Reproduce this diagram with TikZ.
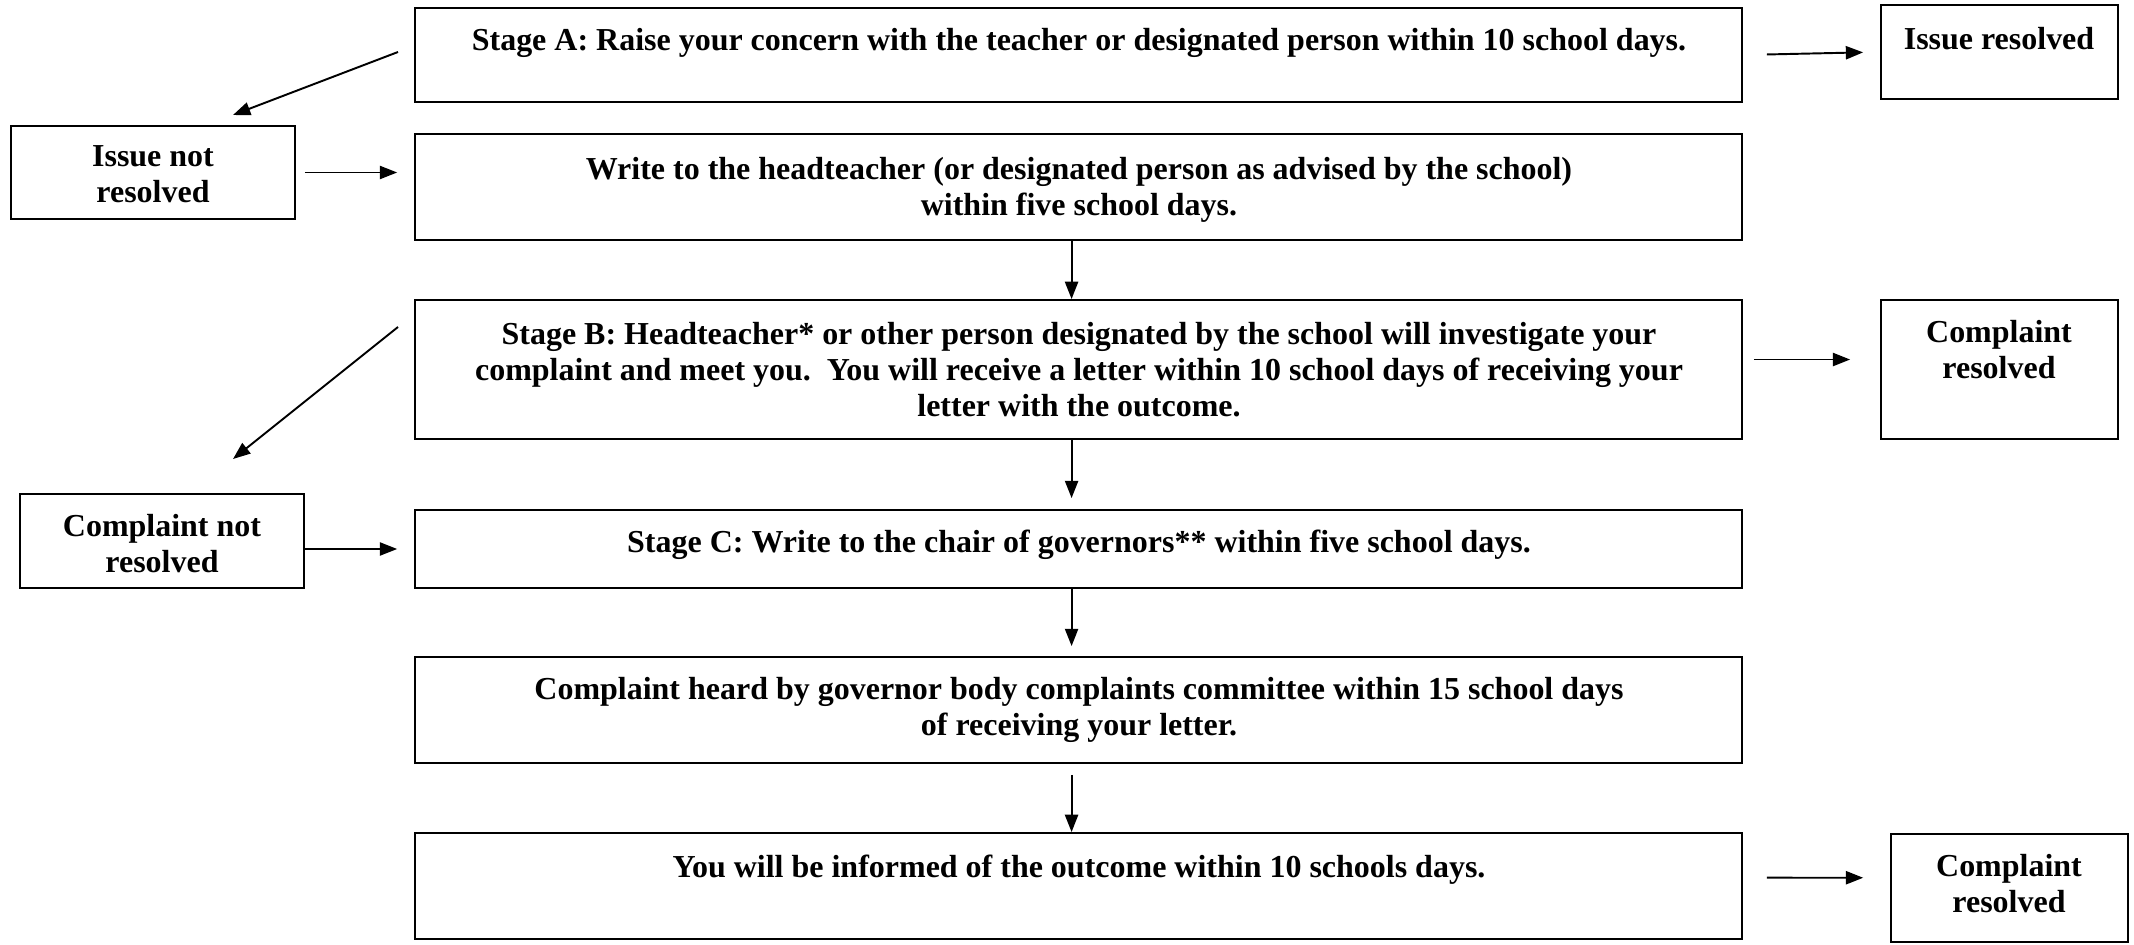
\documentclass[tikz,border=0pt]{standalone}
\usepackage{fontspec}
\setmainfont{Liberation Serif}
\usetikzlibrary{arrows.meta,fit,calc}
\begin{document}
\begin{tikzpicture}[x=0.01in, y=-0.01in,
		box/.style={draw, line width=1.4pt, inner sep=0pt},
		txt/.style={anchor=north, inner sep=0pt, align=center, font=\fontsize{23.1}{25.9}\selectfont\bfseries},
		arr/.style={-{Triangle[length=12.5pt, width=9.5pt]}, line width=1.4pt}]
	\useasboundingbox (0,0) rectangle (2134,945);
	% main column
	\node[box, fit={(415,8) (1742,102)}] (stageA) {};
	\node[box, fit={(415,134) (1742,240)}] (write) {};
	\node[box, fit={(415,300) (1742,439)}] (stageB) {};
	\node[box, fit={(415,510) (1742,588)}] (stageC) {};
	\node[box, fit={(415,657) (1742,763)}] (committee) {};
	\node[box, fit={(415,833) (1742,939)}] (outcome) {};
	% side boxes
	\node[box, fit={(11,126) (295,219)}] (issueNot) {};
	\node[box, fit={(1881,5) (2118,99)}] (issueRes) {};
	\node[box, fit={(20,494) (304,588)}] (complNot) {};
	\node[box, fit={(1881,300) (2118,439)}] (complResB) {};
	\node[box, fit={(1891,834) (2128,942)}] (complResC) {};
	% texts
	\node[txt] (stageAtxt) at (1079,28) {Stage A: Raise your concern with the teacher or designated person within 10 school days.};
	\node[txt] (writetxt) at (1079,157) {Write to the headteacher (or designated person as advised by the school)\\ within five school days.};
	\node[txt] (stageBtxt) at (1079,322) {Stage B: Headteacher* or other person designated by the school will investigate your\\ complaint and meet you.\ \ You will receive a letter within 10 school days of receiving your\\ letter with the outcome.};
	\node[txt] (stageCtxt) at (1079,530) {Stage C: Write to the chair of governors** within five school days.};
	\node[txt] (committeetxt) at (1079,677) {Complaint heard by governor body complaints committee within 15 school days\\ of receiving your letter.};
	\node[txt] (outcometxt) at (1079,855) {You will be informed of the outcome within 10 schools days.};
	\node[txt] (issueNottxt) at (153,145) {Issue not\\ resolved};
	\node[txt] (issueRestxt) at (1999,27) {Issue resolved};
	\node[txt] (complNottxt) at (162,514) {Complaint not\\ resolved};
	\node[txt] (complResBtxt) at (1999,320) {Complaint\\ resolved};
	\node[txt] (complResCtxt) at (2009,854) {Complaint\\ resolved};
	% arrows down the column
	\draw[arr] ([xshift=-5pt]write.south) -- ([xshift=-5pt]stageB.north);
	\draw[arr, shorten >=7.9pt] ([xshift=-5pt]stageB.south) -- ([xshift=-5pt]stageC.north);
	\draw[arr, shorten >=7.2pt] ([xshift=-5pt]stageC.south) -- ([xshift=-5pt]committee.north);
	\draw[arr, shorten <=7.9pt] ([xshift=-5pt]committee.south) -- ([xshift=-5pt]outcome.north);
	% arrows to the right
	\draw[arr, shorten <=17.3pt, shorten >=12.2pt] (stageA.east) -- (issueRes.west);
	\draw[arr, shorten <=7.9pt, shorten >=21.6pt] ([yshift=7.2pt]stageB.east) -- ([yshift=7.2pt]complResB.west);
	\draw[arr, shorten <=17.3pt, shorten >=19.4pt] ([yshift=6pt]outcome.east) -- ([yshift=7.4pt]complResC.west);
	% arrows from the left
	\draw[arr, shorten <=6.5pt, shorten >=12.2pt] (issueNot.east) -- (issueNot.east -| write.west);
	\draw[arr, shorten >=12.2pt] (stageC.west -| complNot.east) -- (stageC.west);
	\coordinate (fromA) at (398,52);
	\coordinate (toIssue) at (233,115);
	\coordinate (fromB) at (398,327);
	\coordinate (toCompl) at (233,459);
	\draw[arr] (fromA) -- (toIssue);
	\draw[arr] (fromB) -- (toCompl);
\end{tikzpicture}
\end{document}
